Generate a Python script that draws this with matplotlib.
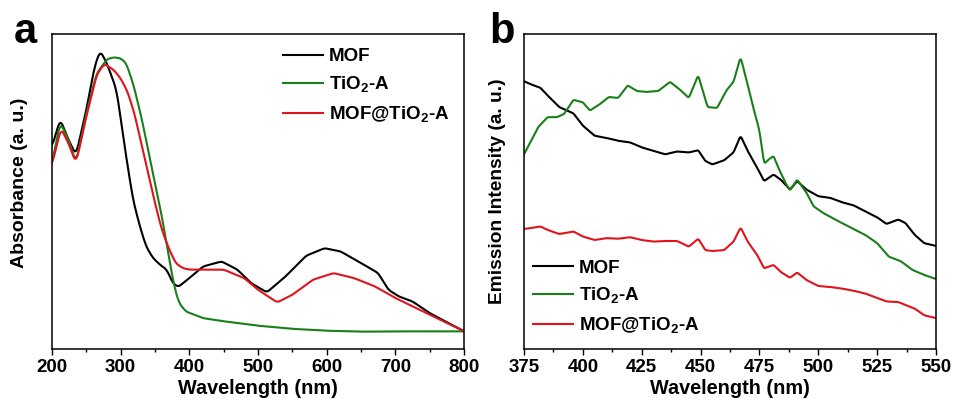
import numpy as np
import matplotlib
matplotlib.use("Agg")
from matplotlib import pyplot as plt
from matplotlib.ticker import MultipleLocator

plt.rcParams['font.family'] = ['Liberation Sans', 'DejaVu Sans']
plt.rcParams['font.weight'] = 'bold'
plt.rcParams['mathtext.fontset'] = 'custom'
plt.rcParams['mathtext.rm'] = 'Liberation Sans:bold'
plt.rcParams['mathtext.bf'] = 'Liberation Sans:bold'

labels = ['MOF', r'TiO$_\mathbf{2}$-A', r'MOF@TiO$_\mathbf{2}$-A']
colors = ['black', '#1a7f1a', '#e0141c']

# panel a: UV-vis absorbance
wl_mof_a = [200, 212, 224, 235, 250, 262, 270, 280, 294, 308, 318, 328, 337, 347, 357, 367, 376, 384,
            400, 420, 447, 470, 490, 513, 540, 570, 597, 620, 650, 675, 690, 705, 725, 750, 775, 800]
abs_mof = [0.643, 0.729, 0.664, 0.616, 0.759, 0.896, 0.947, 0.907, 0.822, 0.611, 0.474, 0.389, 0.326,
           0.289, 0.268, 0.252, 0.209, 0.197, 0.225, 0.262, 0.278, 0.252, 0.209, 0.180, 0.230, 0.296,
           0.320, 0.310, 0.273, 0.241, 0.188, 0.167, 0.151, 0.114, 0.085, 0.056]

wl_tio_a = [200, 212, 224, 235, 250, 265, 280, 290, 300, 308, 318, 330, 345, 360, 370, 378, 385, 395,
            420, 450, 500, 550, 600, 650, 700, 800]
abs_tio = [0.590, 0.719, 0.664, 0.592, 0.748, 0.875, 0.920, 0.926, 0.923, 0.907, 0.844, 0.738, 0.579,
           0.421, 0.294, 0.199, 0.146, 0.119, 0.098, 0.088, 0.074, 0.064, 0.058, 0.055, 0.056, 0.056]

wl_comp_a = [200, 213, 224, 235, 250, 265, 276, 290, 300, 310, 320, 330, 340, 350, 360, 370, 380, 390,
             400, 450, 480, 500, 528, 550, 580, 610, 640, 670, 700, 750, 800]
abs_comp = [0.585, 0.701, 0.653, 0.590, 0.738, 0.870, 0.905, 0.886, 0.859, 0.817, 0.748, 0.653, 0.558,
            0.463, 0.378, 0.320, 0.273, 0.257, 0.252, 0.252, 0.225, 0.188, 0.148, 0.172, 0.220, 0.241,
            0.225, 0.199, 0.162, 0.109, 0.056]

# panel b: PL emission
wl_b = [375, 378, 382, 385, 390, 396, 400, 405, 410, 415, 420, 425, 430, 435, 440, 445, 449, 452, 455,
        460, 464, 467, 470, 474, 477, 481, 484, 488, 491, 495, 500, 505, 510, 515, 520, 525, 529, 534,
        537, 541, 545, 550]
pl_mof = [0.850, 0.840, 0.829, 0.805, 0.768, 0.748, 0.709, 0.677, 0.670, 0.661, 0.656, 0.640, 0.629,
          0.618, 0.627, 0.624, 0.631, 0.597, 0.586, 0.599, 0.624, 0.677, 0.629, 0.576, 0.533, 0.554,
          0.538, 0.506, 0.533, 0.506, 0.485, 0.480, 0.466, 0.456, 0.437, 0.418, 0.397, 0.411, 0.400,
          0.362, 0.336, 0.327]

wl_tio_b = [375, 378, 381, 385, 389, 392, 396, 400, 403, 407, 411, 415, 419, 423, 427, 432, 437, 441,
            445, 449, 453, 457, 461, 464, 467, 469, 472, 475, 477, 479, 481, 483, 486, 488, 491, 495,
            498, 502, 510, 520, 525, 530, 535, 540, 545, 550]
pl_tio = [0.618, 0.661, 0.704, 0.736, 0.736, 0.746, 0.791, 0.783, 0.757, 0.776, 0.800, 0.797, 0.837,
          0.819, 0.816, 0.819, 0.848, 0.825, 0.797, 0.869, 0.768, 0.765, 0.821, 0.848, 0.927, 0.869,
          0.778, 0.693, 0.588, 0.602, 0.613, 0.576, 0.528, 0.503, 0.538, 0.496, 0.453, 0.432, 0.400,
          0.362, 0.336, 0.293, 0.279, 0.251, 0.235, 0.222]

pl_comp = [0.381, 0.384, 0.389, 0.378, 0.365, 0.373, 0.357, 0.346, 0.352, 0.350, 0.355, 0.346, 0.341,
           0.343, 0.343, 0.325, 0.350, 0.314, 0.311, 0.314, 0.341, 0.386, 0.341, 0.299, 0.256, 0.267,
           0.245, 0.226, 0.243, 0.219, 0.200, 0.197, 0.192, 0.185, 0.176, 0.162, 0.151, 0.149, 0.140,
           0.128, 0.107, 0.098]

fig = plt.figure(figsize=(9.54, 4.05), dpi=100)
W, H = 954, 405
ax1 = fig.add_axes([52 / W, 1 - 349 / H, 412 / W, 315 / H])
ax2 = fig.add_axes([524 / W, 1 - 349 / H, 412 / W, 315 / H])


def smooth(x, y, n=400, k=5):
    # resample the read points and run a short moving average over them
    xs = np.linspace(x[0], x[-1], n)
    ys = np.interp(xs, x, y)
    ker = np.ones(k) / k
    ys = np.convolve(np.pad(ys, k // 2, mode='edge'), ker, mode='valid')
    return xs, ys


for x, y, c, l in [(wl_mof_a, abs_mof, colors[0], labels[0]),
                   (wl_tio_a, abs_tio, colors[1], labels[1]),
                   (wl_comp_a, abs_comp, colors[2], labels[2])]:
    xs, ys = smooth(x, y)
    ax1.plot(xs, ys, color=c, lw=1.5, label=l)

for x, y, c, l in [(wl_b, pl_mof, colors[0], labels[0]),
                   (wl_tio_b, pl_tio, colors[1], labels[1]),
                   (wl_b, pl_comp, colors[2], labels[2])]:
    xs, ys = smooth(x, y, n=500, k=3)
    ax2.plot(xs, ys, color=c, lw=1.5, label=l)

ax1.set_xlim(200, 800)
ax1.set_ylim(0, 1)
ax1.xaxis.set_major_locator(MultipleLocator(100))
ax1.xaxis.set_minor_locator(MultipleLocator(50))
ax1.set_ylabel('Absorbance (a. u.)', fontsize=14, fontweight='bold')
ax1.yaxis.set_label_coords(-0.058, 0.527)
ax1.legend(loc='upper left', frameon=False, fontsize=13.5, handlelength=2.15,
           handletextpad=0.3, borderpad=0, borderaxespad=0,
           bbox_to_anchor=(0.561, 0.955), labelspacing=0.5)

ax2.set_xlim(375, 550)
ax2.set_ylim(0, 1)
ax2.xaxis.set_major_locator(MultipleLocator(25))
ax2.xaxis.set_minor_locator(MultipleLocator(12.5))
ax2.set_ylabel('Emission Intensity (a. u.)', fontsize=13.8, fontweight='bold', labelpad=13)
ax2.legend(loc='upper left', frameon=False, fontsize=13.5, handlelength=2.15,
           handletextpad=0.3, borderpad=0, borderaxespad=0,
           bbox_to_anchor=(0.022, 0.284), labelspacing=0.5)

for ax in (ax1, ax2):
    ax.set_xlabel('Wavelength (nm)', fontsize=14.3, fontweight='bold', labelpad=2)
    ax.set_yticks([])
    ax.tick_params(axis='x', which='major', direction='out', length=4, width=1,
                   labelsize=13.5, pad=3)
    ax.tick_params(axis='x', which='minor', direction='out', length=2.5, width=1)
    for s in ax.spines.values():
        s.set_linewidth(1.1)
    for t in ax.get_xticklabels():
        t.set_fontweight('bold')

fig.text(14 / W, 1 - 43 / H, 'a', fontsize=30, fontweight='bold')
fig.text(489 / W, 1 - 43 / H, 'b', fontsize=30, fontweight='bold')

fig.savefig('out.png', dpi=100)
